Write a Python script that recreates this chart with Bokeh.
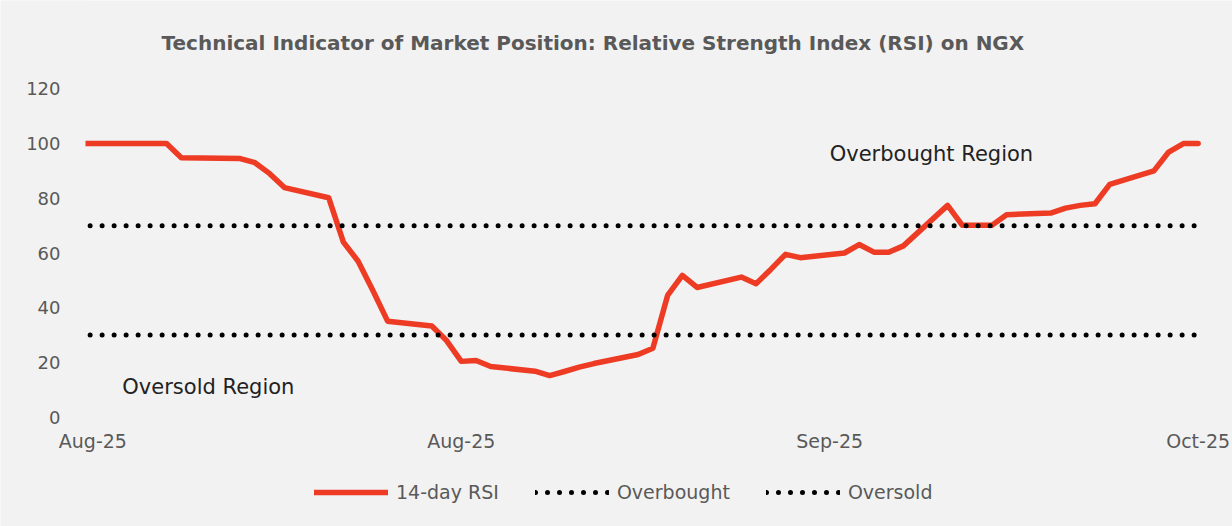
import pandas as pd
from bokeh.plotting import figure
from bokeh.models import (Range1d, FixedTicker, DatetimeTickFormatter, Legend,
                          LegendItem, Label, BoxAnnotation, ColumnDataSource)
from bokeh.embed import file_html
from bokeh.resources import INLINE

# ---- data ----
dates = ["2025-08-01", "2025-08-04", "2025-08-05", "2025-08-06", "2025-08-07",
         "2025-08-08", "2025-08-12", "2025-08-13", "2025-08-14", "2025-08-15",
         "2025-08-18", "2025-08-19", "2025-08-20", "2025-08-21", "2025-08-22",
         "2025-08-25", "2025-08-26", "2025-08-27", "2025-08-28", "2025-08-29",
         "2025-09-01", "2025-09-02", "2025-09-03", "2025-09-04", "2025-09-05",
         "2025-09-08", "2025-09-09", "2025-09-10", "2025-09-11", "2025-09-12",
         "2025-09-15", "2025-09-16", "2025-09-17", "2025-09-18", "2025-09-19",
         "2025-09-22", "2025-09-23", "2025-09-24", "2025-09-25", "2025-09-26",
         "2025-09-29", "2025-09-30", "2025-10-02", "2025-10-03",
         "2025-10-06", "2025-10-07", "2025-10-08", "2025-10-09", "2025-10-10",
         "2025-10-13", "2025-10-14", "2025-10-15", "2025-10-16"]
rsi_14 = [100, 100, 100, 100, 100,
          94.8, 94.5, 93.0, 89.0, 83.9,
          80.2, 64.0, 57.0, 46.3, 35.1,
          33.3, 28.0, 20.4, 20.7, 18.5,
          16.8, 15.2, 16.7, 18.3, 19.6,
          22.9, 25.2, 44.5, 51.8, 47.4,
          51.2, 48.8, 54.0, 59.5, 58.3,
          60.0, 63.1, 60.3, 60.3, 62.6,
          77.4, 70.1, 70.1, 74.0,
          74.6, 76.4, 77.4, 78.0, 85.1,
          90.0, 96.9, 100, 100]
overbought_level = 70
oversold_level = 30
x_tick_dates = ["2025-08-02", "2025-08-27", "2025-09-21", "2025-10-16"]
y_ticks = [0, 20, 40, 60, 80, 100, 120]

x = pd.to_datetime(dates)
src = ColumnDataSource(dict(
    x=x, rsi=rsi_14,
    ob=[overbought_level] * len(dates),
    os=[oversold_level] * len(dates),
))

FONT = "DejaVu Sans"
GREY = "#595959"
BG = "#f2f2f2"
W, H = 1232, 526

# ---- layout geometry (pixels) ----
PLOT_L, PLOT_R = 85, 1205          # plot area of the value chart
PLOT_T, PLOT_B = 88.3, 416.7
Y_MAX = 120
axis_start = pd.Timestamp(x_tick_dates[0]) - pd.Timedelta(hours=12)
axis_end = pd.Timestamp(x_tick_dates[-1]) + pd.Timedelta(hours=12)
span_days = (axis_end - axis_start) / pd.Timedelta(days=1)
px_day = (PLOT_R - PLOT_L) / span_days
px_unit = (PLOT_B - PLOT_T) / Y_MAX
x_start = axis_start - pd.Timedelta(days=PLOT_L / px_day)
x_end = axis_end + pd.Timedelta(days=(W - PLOT_R) / px_day)
y_start = -(H - PLOT_B) / px_unit
y_end = Y_MAX + PLOT_T / px_unit

p = figure(width=W, height=H, x_axis_type="datetime", title=None,
           x_range=Range1d(x_start, x_end), y_range=Range1d(y_start, y_end),
           output_backend="svg", toolbar_location=None,
           min_border=0, background_fill_color=BG, border_fill_color=BG)
p.outline_line_color = None
p.grid.visible = False

r_rsi = p.line("x", "rsi", source=src, line_color="#EE3B24", line_width=5.5,
               line_join="round", line_cap="round")
r_ob = p.line("x", "ob", source=src, line_color="black", line_width=5,
              line_dash="0 12", line_cap="round")
r_os = p.line("x", "os", source=src, line_color="black", line_width=5,
              line_dash="0 12", line_cap="round")
# clip series at the left edge of the plot area
p.add_layout(BoxAnnotation(right=axis_start, fill_color=BG, fill_alpha=1,
                           line_color=None, level="glyph"))

for ax in (p.xaxis[0], p.yaxis[0]):
    ax.axis_line_color = None
    ax.major_tick_line_color = None
    ax.minor_tick_line_color = None
    ax.major_label_text_font = FONT
    ax.major_label_text_color = GREY

p.yaxis[0].major_label_text_font_size = "18px"
p.yaxis[0].ticker = FixedTicker(ticks=y_ticks)
p.yaxis[0].major_label_standoff = 19
p.yaxis[0].fixed_location = axis_start.timestamp() * 1000

p.xaxis[0].major_label_text_font_size = "19px"
p.xaxis[0].ticker = FixedTicker(
    ticks=[pd.Timestamp(d).timestamp() * 1000 for d in x_tick_dates])
fmt = "%b-%y"
p.xaxis[0].formatter = DatetimeTickFormatter(
    milliseconds=fmt, seconds=fmt, minsec=fmt, minutes=fmt, hourmin=fmt,
    hours=fmt, days=fmt, months=fmt, years=fmt)
p.xaxis[0].major_label_standoff = 7
p.xaxis[0].fixed_location = 0

# title
p.add_layout(Label(x=axis_start + pd.Timedelta(days=(161 - PLOT_L) / px_day),
                   y=Y_MAX + (PLOT_T - 42) / px_unit,
                   text="Technical Indicator of Market Position: Relative Strength Index (RSI) on NGX",
                   text_font=FONT, text_font_size="20px", text_font_style="bold",
                   text_color=GREY, text_baseline="middle", text_align="left"))

p.add_layout(Label(x=pd.Timestamp("2025-09-21"), y=96, text="Overbought Region",
                   text_font=FONT, text_font_size="21px", text_color="#222222",
                   text_baseline="middle", text_align="left"))
p.add_layout(Label(x=pd.Timestamp("2025-08-04"), y=11, text="Oversold Region",
                   text_font=FONT, text_font_size="21px", text_color="#222222",
                   text_baseline="middle", text_align="left"))

legend = Legend(items=[LegendItem(label="14-day RSI", renderers=[r_rsi]),
                       LegendItem(label="Overbought", renderers=[r_ob]),
                       LegendItem(label="Oversold", renderers=[r_os])],
                orientation="horizontal", location=(314, 23),
                glyph_width=74, glyph_height=20, label_height=20,
                label_standoff=8, spacing=36, padding=0, margin=0,
                background_fill_alpha=0, border_line_color=None,
                label_text_font=FONT, label_text_font_size="19px",
                label_text_color=GREY)
p.add_layout(legend, "center")

open("out.html", "w").write(file_html(p, INLINE))
